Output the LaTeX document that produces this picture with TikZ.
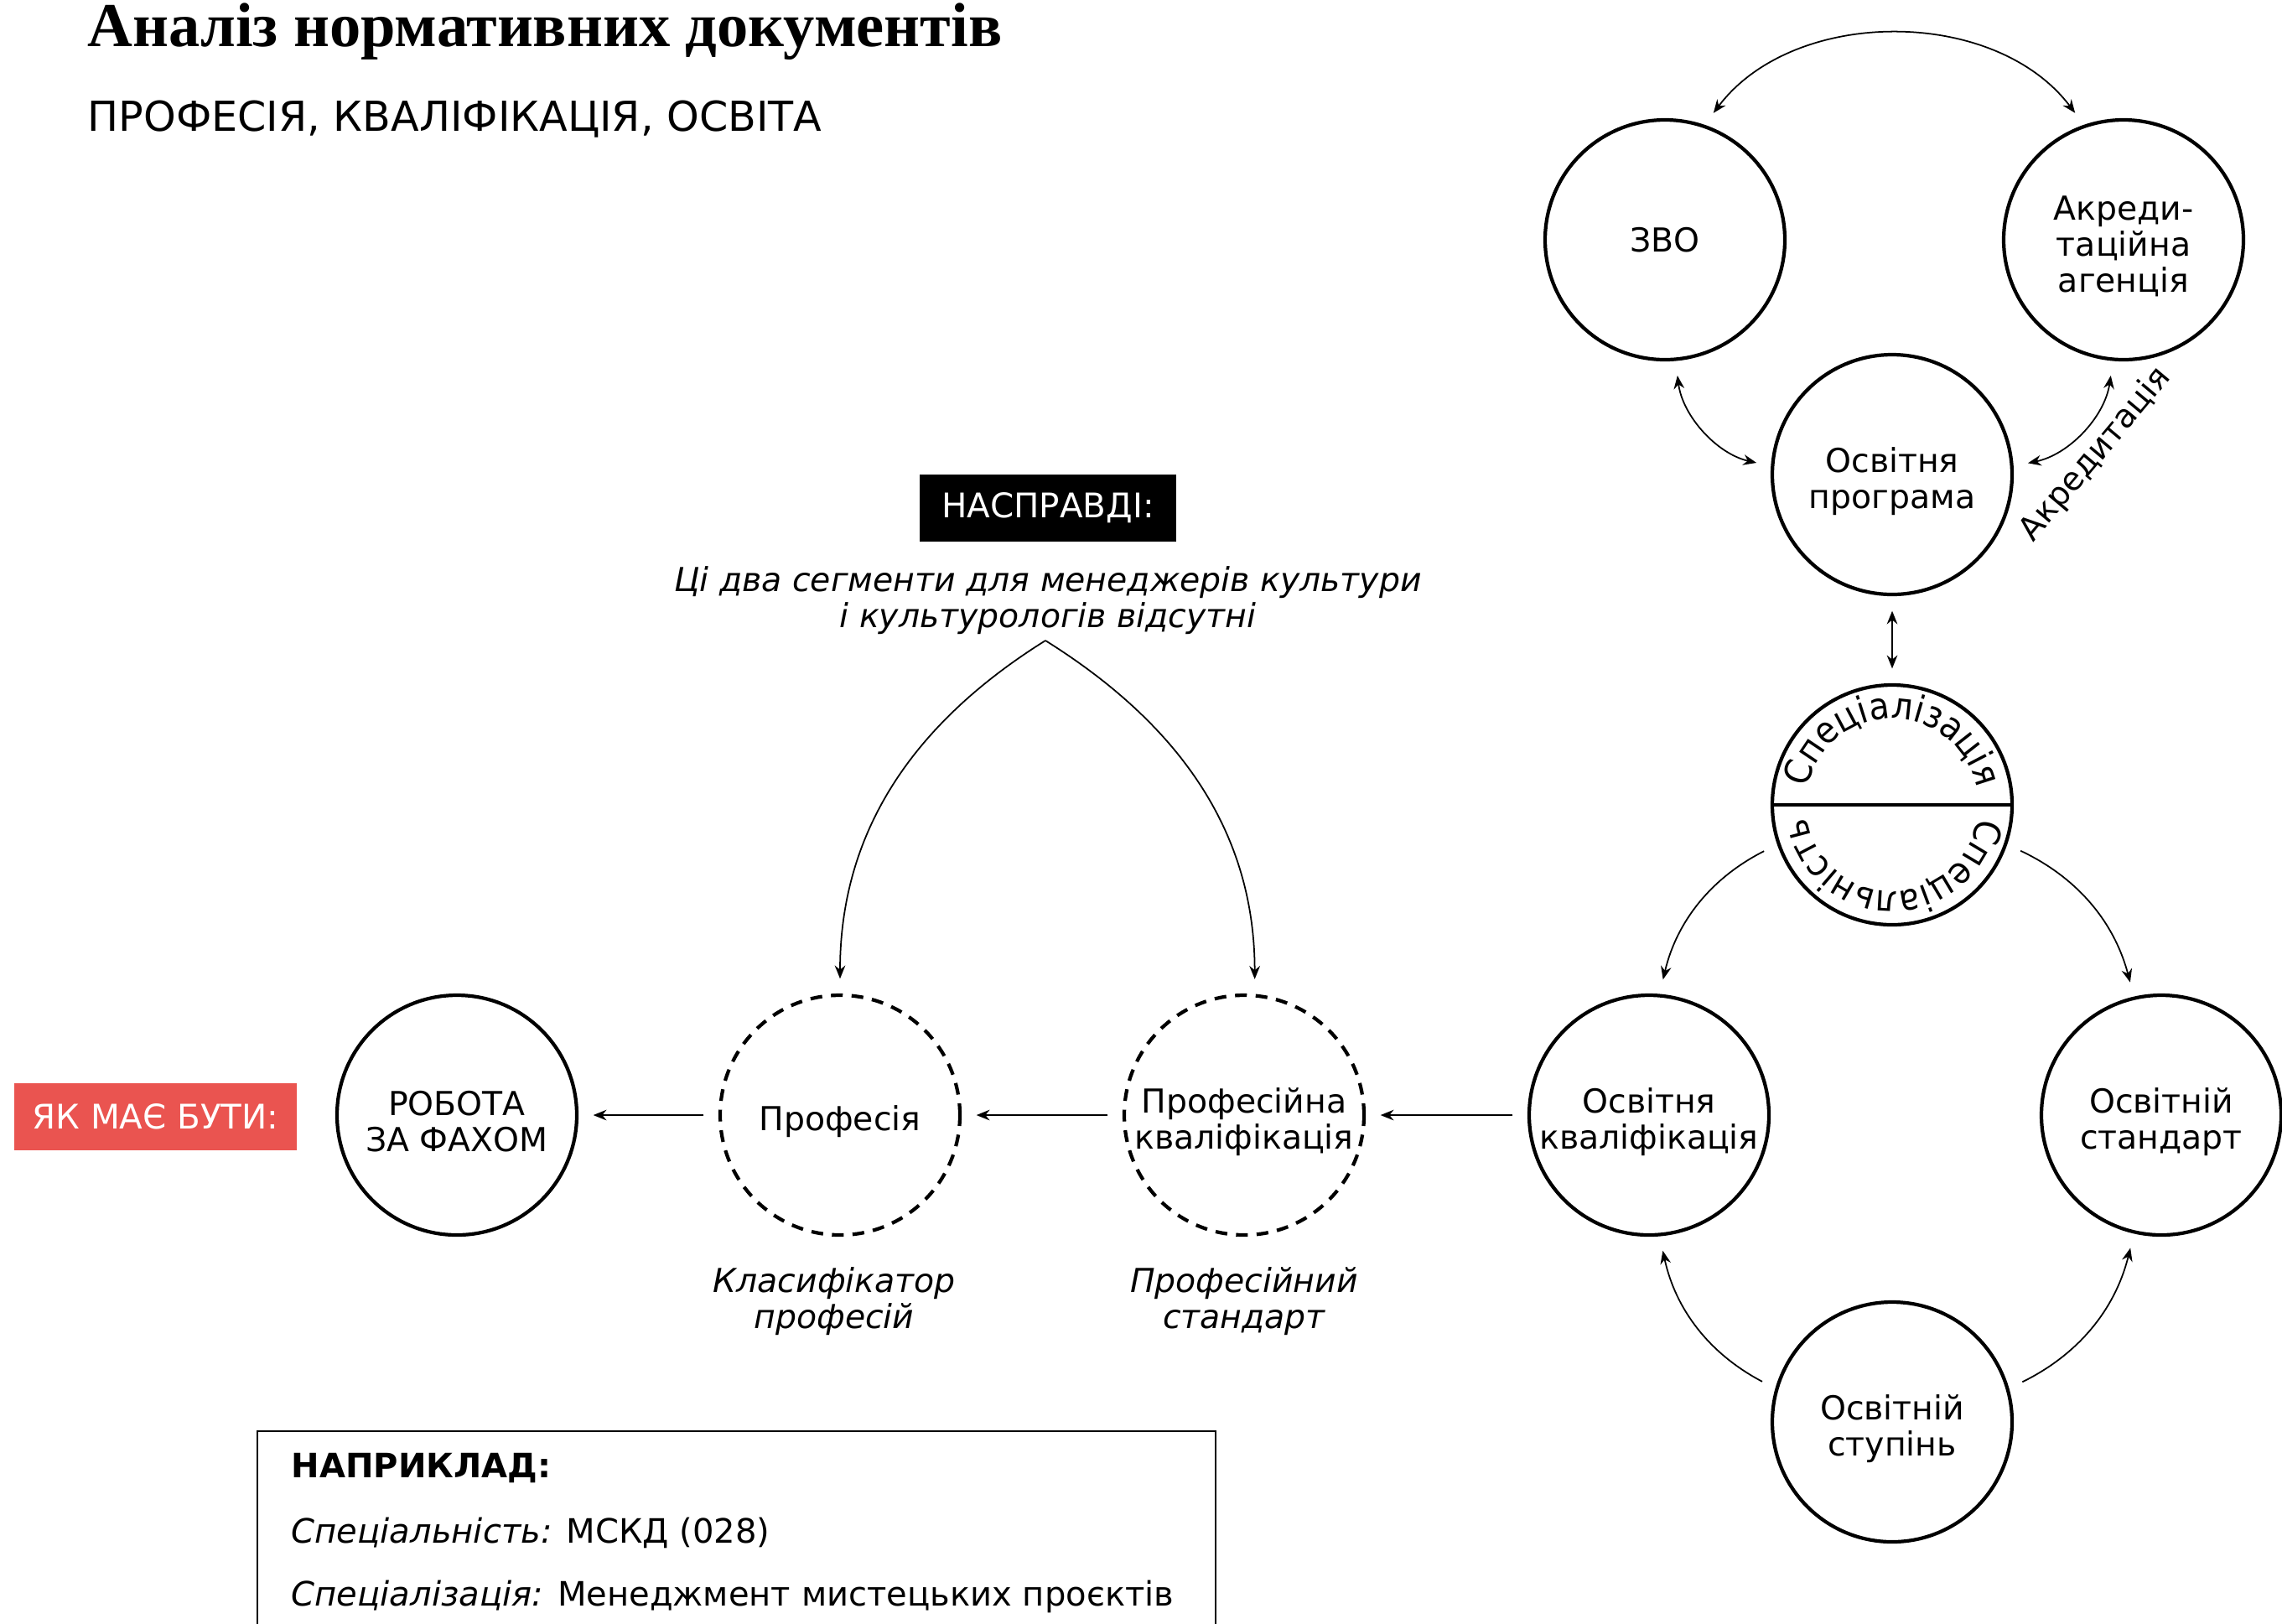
\documentclass[tikz,border=0pt]{standalone}
\usepackage{fontspec}
\setmainfont{DejaVu Sans}
\newfontfamily\titlefont{Liberation Serif}
\newfontfamily\arcfont[FakeStretch=0.9]{DejaVu Sans}
\usetikzlibrary{arrows.meta,decorations.text}
\definecolor{alarm}{RGB}{234,84,80}
\newcommand{\circfont}{\fontsize{11.2}{12.2}\selectfont}

\begin{document}
\begin{tikzpicture}[
    >={Stealth[length=4.5pt,width=3.6pt]},
    blob/.style={circle,draw,line width=1.2pt,minimum size=2.86cm,inner sep=0pt,align=center,font=\circfont},
    duo/.style={blob,label={[font=\circfont,align=center,yshift=-0.8mm]center:{#1}}},
    ghost/.style={dash pattern=on 4pt off 3pt},
    conn/.style={->,line width=0.5pt,shorten >=5pt,shorten <=5pt},
    biconn/.style={conn,<->},
    note/.style={font=\circfont\itshape,align=center},
    tag/.style={minimum height=0.8cm,text=white,font=\fontsize{11.5}{12}\selectfont},
    line/.style={anchor=base west,inner sep=0pt,font=\fontsize{11.4}{12}\selectfont}]
  \useasboundingbox (0,0) rectangle (27.22,-19.36);
  \clip (0,0) rectangle (27.22,-19.36);

  \node[anchor=base west,inner sep=0pt,font=\titlefont\bfseries\fontsize{21.2}{24}\selectfont] (title) at (1.04,-0.55) {Аналіз нормативних документів};
  \node[anchor=base west,inner sep=0pt,font=\fontsize{14}{16}\selectfont] (sub) at (1.04,-1.56) {ПРОФЕСІЯ, КВАЛІФІКАЦІЯ, ОСВІТА};

  \node[blob] (zvo) at (19.86,-2.86) {ЗВО};
  \node[duo={Акреди-\\таційна\\агенція}] (akr) at (25.33,-2.86) {};
  \node[duo={Освітня\\програма}] (op) at (22.57,-5.66) {};
  \node[blob] (spec) at (22.57,-9.60) {};
  \node[duo={Освітня\\кваліфікація}] (okv) at (19.67,-13.30) {};
  \node[duo={Освітній\\стандарт}] (ost) at (25.78,-13.30) {};
  \node[duo={Освітній\\ступінь}] (stup) at (22.57,-16.96) {};
  \node[duo={Професійна\\кваліфікація},ghost] (pkv) at (14.84,-13.30) {};
  \node[duo={Професія},ghost] (prof) at (10.02,-13.30) {};
  \node[duo={РОБОТА\\ЗА ФАХОМ}] (robota) at (5.45,-13.30) {};

  \draw[line width=1.2pt] (spec.west) -- (spec.east);
  \path[decorate,decoration={text along path,text align=center,text={|\arcfont\fontsize{12.5}{13}\selectfont|Спеціалізація}}]
    (spec) ++(176:1.03) arc[start angle=176,end angle=4,radius=1.03];
  \path[decorate,decoration={text along path,text align=center,text={|\arcfont\fontsize{12.5}{13}\selectfont|Спеціальність}}]
    (spec) ++(-4:1.03) arc[start angle=-4,end angle=-176,radius=1.03];

  \node[tag,fill=black,minimum width=3.06cm] (fact) at (12.50,-6.06) {НАСПРАВДІ:};
  \node[note] (gap) at (12.50,-7.16) {Ці два сегменти для менеджерів культури\\і культурологів відсутні};
  \coordinate (apex) at (12.47,-7.64);
  \node[tag,fill=alarm,minimum width=3.37cm] (must) at (1.855,-13.315) {ЯК МАЄ БУТИ:};

  \node[note] (klas) at (9.95,-15.52) {Класифікатор\\професій};
  \node[note] (pst) at (14.84,-15.52) {Професійний\\стандарт};
  \node[font=\fontsize{11}{12}\selectfont,rotate=50] (acc) at (25.0,-5.42) {Акредитація};

  \draw[biconn] (zvo.71) to[bend left=53] (akr.109);
  \draw[biconn] (zvo.-85) to[bend right=35] (op.176);
  \draw[biconn] (akr.-95) to[bend left=35] (op.4);
  \draw[biconn] (op.south) -- (spec.north);
  \draw[conn] (spec.199) to[bend right=25] (okv.85);
  \draw[conn] (spec.-19) to[bend left=25] (ost.103);
  \draw[conn] (stup.164) to[bend left=25] (okv.-85);
  \draw[conn] (stup.16) to[bend right=25] (ost.-103);
  \draw[conn] (okv.west) -- (pkv.east);
  \draw[conn] (pkv.west) -- (prof.east);
  \draw[conn] (prof.west) -- (robota.east);
  \draw[conn,shorten <=0pt] (apex) to[out=212,in=90] (prof.north);
  \draw[conn,shorten <=0pt] (apex) to[out=-32,in=90] (pkv.85);

  \draw[line width=0.5pt] (3.07,-19.6) rectangle (14.50,-17.07);
  \node[line,font=\fontsize{11.4}{12}\selectfont\bfseries] (ex) at (3.47,-17.62) {НАПРИКЛАД:};
  \node[line] (ex1) at (3.47,-18.40) {\textit{Спеціальність:} МСКД (028)};
  \node[line] (ex2) at (3.47,-19.15) {\textit{Спеціалізація:} Менеджмент мистецьких проєктів};
\end{tikzpicture}
\end{document}
